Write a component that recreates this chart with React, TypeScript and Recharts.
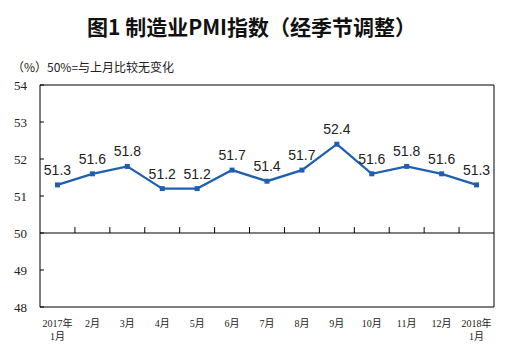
import { LineChart, Line, XAxis, YAxis, ReferenceLine, ReferenceArea, LabelList } from 'recharts';

const months = ['2017年\n1月', '2月', '3月', '4月', '5月', '6月', '7月', '8月', '9月', '10月', '11月', '12月', '2018年\n1月'];
const pmi = [51.3, 51.6, 51.8, 51.2, 51.2, 51.7, 51.4, 51.7, 52.4, 51.6, 51.8, 51.6, 51.3];
const yTicks = [48, 49, 50, 51, 52, 53, 54];

const data = months.map((m, i) => ({ month: m, pmi: pmi[i] }));

const BLUE = '#1f5fb0';

function MonthTick({ x, y, payload }: any) {
  const lines = String(payload.value).split('\n');
  return (
    <text x={x} y={y} textAnchor="middle" fontSize={10} fill="#222" fontFamily="'Liberation Serif', 'Noto Sans CJK SC', serif">
      {lines.map((l, i) => (
        <tspan key={i} x={x} dy={i === 0 ? 12 : 13}>{l}</tspan>
      ))}
    </text>
  );
}

function SquareDot({ cx, cy }: any) {
  if (cx == null || cy == null) return null;
  return <rect x={cx - 2.5} y={cy - 2.5} width={5} height={5} fill={BLUE} />;
}

export default function App() {
  return (
    <div style={{ position: 'absolute', left: 0, top: 0, width: 523, height: 353, background: '#fff' }}>
      <div
        style={{
          position: 'absolute', left: 0, top: 11, width: 503, textAlign: 'center',
          fontFamily: "'Noto Sans CJK SC', sans-serif", fontWeight: 700, fontSize: 21, color: '#111',
        }}
      >
        图1 制造业PMI指数（经季节调整）
      </div>
      <div
        style={{
          position: 'absolute', left: 12, top: 58, fontSize: 12, color: '#222',
          fontFamily: "'Noto Sans CJK SC', sans-serif",
        }}
      >
        （%）50%=与上月比较无变化
      </div>
      <LineChart
        width={523}
        height={353}
        data={data}
        margin={{ top: 85, right: 29, bottom: 6, left: 0 }}
        style={{ position: 'absolute', left: 0, top: 0 }}
      >
        <XAxis
          dataKey="month"
          scale="band"
          axisLine={false}
          tickLine={false}
          interval={0}
          height={40}
          tick={<MonthTick />}
        />
        <YAxis
          domain={[48, 54]}
          ticks={yTicks}
          width={40}
          axisLine={false}
          tickSize={-4}
          tickMargin={17}
          tickLine={{ stroke: '#000' }}
          tick={{ fontSize: 13, fill: '#222', fontFamily: "'Liberation Serif', serif" }}
        />
        <ReferenceArea y1={48} y2={54} fill="none" stroke="#000" strokeWidth={1} ifOverflow="extendDomain" />
        <ReferenceLine y={50} stroke="#000" strokeWidth={1} />
        {months.slice(1).map((m) => (
          <ReferenceLine
            key={m}
            position="start"
            segment={[{ x: m, y: 50 }, { x: m, y: 50.16 }]}
            stroke="#000"
            strokeWidth={1}
          />
        ))}
        <Line
          dataKey="pmi"
          stroke={BLUE}
          strokeWidth={2.3}
          dot={<SquareDot />}
          isAnimationActive={false}
        >
          <LabelList
            dataKey="pmi"
            position="top"
            offset={10}
            fontSize={14}
            fill="#222"
            fontFamily="'Liberation Sans', Arial, sans-serif"
            formatter={(v: any) => Number(v).toFixed(1)}
          />
        </Line>
      </LineChart>
    </div>
  );
}
